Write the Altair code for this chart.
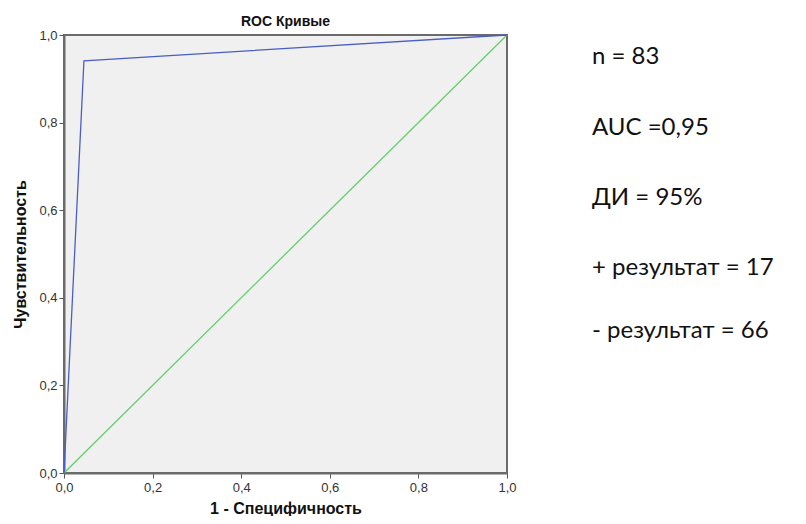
import altair as alt
import pandas as pd

# ROC curve points (1 - specificity, sensitivity)
roc_fpr = [0.0, 0.045, 1.0]
roc_tpr = [0.0, 0.941, 1.0]
# reference diagonal
ref_fpr = [0.0, 1.0]
ref_tpr = [0.0, 1.0]

stats_labels = ["n = 83", "AUC =0,95", "ДИ = 95%", "+ результат = 17", "- результат = 66"]

roc = pd.DataFrame({"x": roc_fpr, "y": roc_tpr, "order": range(len(roc_fpr))})
ref = pd.DataFrame({"x": ref_fpr, "y": ref_tpr, "order": range(len(ref_fpr))})

lab_expr = "replace(format(datum.value, '.1f'), '.', ',')"
xsc = alt.Scale(domain=[0, 1], nice=False, zero=False)
ysc = alt.Scale(domain=[0, 1], nice=False, zero=False)

xaxis = alt.Axis(values=[0, 0.2, 0.4, 0.6, 0.8, 1.0], labelExpr=lab_expr, title="1 - Специфичность",
                 grid=False, tickSize=5, tickColor="#555", domainColor="#6b6b6b", domainWidth=2,
                 labelFlush=False,
                 labelFont="Liberation Sans", labelFontSize=13, labelColor="#333", labelPadding=3,
                 titleFont="Liberation Sans", titleFontSize=16, titleFontWeight="bold", titlePadding=6,
                 titleColor="#111")
yaxis = alt.Axis(values=[0, 0.2, 0.4, 0.6, 0.8, 1.0], labelExpr=lab_expr, title="Чувствительность",
                 grid=False, tickSize=5, tickColor="#555", domainColor="#6b6b6b", domainWidth=2,
                 labelFlush=False,
                 labelFont="Liberation Sans", labelFontSize=13, labelColor="#333", labelPadding=2,
                 titleFont="Liberation Sans", titleFontSize=16, titleFontWeight="bold", titlePadding=10,
                 titleColor="#111")

ref_line = alt.Chart(ref).mark_line(color="#62cf6a", strokeWidth=1.3).encode(
    x=alt.X("x:Q", scale=xsc, axis=xaxis),
    y=alt.Y("y:Q", scale=ysc, axis=yaxis),
    order="order:Q",
)
roc_line = alt.Chart(roc).mark_line(color="#4a5ec4", strokeWidth=1.3).encode(
    x=alt.X("x:Q", scale=xsc),
    y=alt.Y("y:Q", scale=ysc),
    order="order:Q",
)

text_layers = []
y_pix = [22, 93, 163, 233, 296]
for lbl, yp in zip(stats_labels, y_pix):
    text_layers.append(
        alt.Chart(pd.DataFrame({"t": [lbl]})).mark_text(
            align="left", baseline="middle", font="Lato", fontSize=24, color="#111"
        ).encode(x=alt.value(528), y=alt.value(yp), text="t:N")
    )

chart = alt.layer(ref_line, roc_line, *text_layers).properties(
    width=443, height=438,
    title=alt.TitleParams("ROC Кривые", font="Liberation Sans", fontSize=14, fontWeight="bold",
                          color="#111", anchor="middle", offset=0),
    autosize=alt.AutoSizeParams(type="none"),
    padding={"left": 56, "top": 27, "right": 291, "bottom": 43},
).configure_view(
    fill="#f0f0f0", stroke="#6b6b6b", strokeWidth=2
)

chart.save("out.html", embed_options={"renderer": "svg", "actions": False})
